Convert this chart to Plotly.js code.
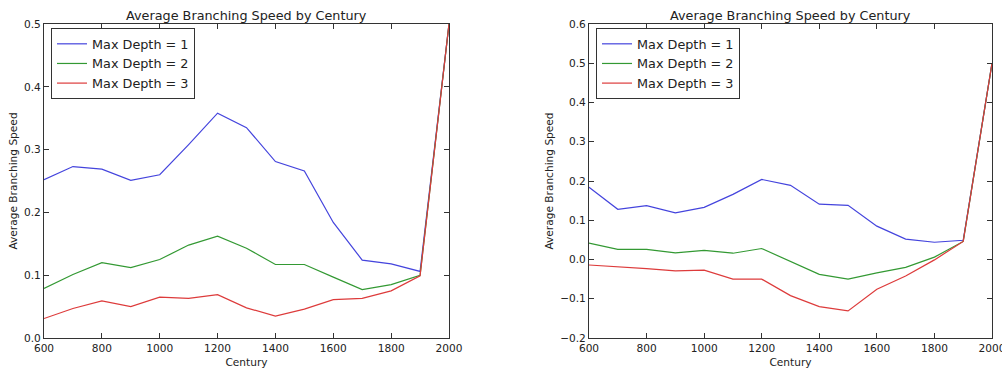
<!DOCTYPE html>
<html>
<head>
<meta charset="utf-8">
<script src="https://cdn.plot.ly/plotly-3.0.1.min.js"></script>
<style>html,body{margin:0;padding:0;background:#fff;}#chart{width:1002px;height:370px;}</style>
</head>
<body>
<div id="chart"></div>
<script>
// Data
const centuries = [600, 700, 800, 900, 1000, 1100, 1200, 1300, 1400, 1500, 1600, 1700, 1800, 1900, 2000];
const seriesNames = ["Max Depth = 1", "Max Depth = 2", "Max Depth = 3"];

// Left panel
const leftDepth1 = [0.252, 0.273, 0.269, 0.251, 0.260, 0.308, 0.358, 0.335, 0.281, 0.266, 0.184, 0.124, 0.118, 0.106, 0.5];
const leftDepth2 = [0.079, 0.101, 0.120, 0.112, 0.125, 0.148, 0.162, 0.143, 0.117, 0.117, 0.097, 0.077, 0.085, 0.100, 0.5];
const leftDepth3 = [0.031, 0.047, 0.059, 0.050, 0.065, 0.063, 0.069, 0.048, 0.035, 0.046, 0.061, 0.063, 0.075, 0.099, 0.5];

// Right panel
const rightDepth1 = [0.184, 0.128, 0.137, 0.119, 0.133, 0.166, 0.204, 0.189, 0.141, 0.138, 0.085, 0.052, 0.044, 0.049, 0.5];
const rightDepth2 = [0.042, 0.026, 0.026, 0.017, 0.023, 0.016, 0.028, -0.005, -0.038, -0.050, -0.034, -0.020, 0.006, 0.046, 0.5];
const rightDepth3 = [-0.014, -0.018, -0.023, -0.029, -0.027, -0.050, -0.050, -0.092, -0.120, -0.131, -0.076, -0.042, -0.001, 0.046, 0.5];

const titleText = "Average Branching Speed by Century";
const xTitle = "Century";
const yTitle = "Average Branching Speed";

const colors = ["#4444dd", "#339933", "#dd3b3b"];
const FONT = "DejaVu Sans, Liberation Sans, sans-serif";

const W = 1002, H = 370;
const px = v => v / W;
const py = v => 1 - v / H;

function mk(y, i, xa, ya, leg) {
  return {
    x: centuries, y: y, name: seriesNames[i], type: "scatter", mode: "lines",
    line: {color: colors[i], width: 1.2},
    xaxis: xa, yaxis: ya, legend: leg, hoverinfo: "skip"
  };
}

const traces = [
  mk(leftDepth1, 0, "x", "y", "legend"),
  mk(leftDepth2, 1, "x", "y", "legend"),
  mk(leftDepth3, 2, "x", "y", "legend"),
  mk(rightDepth1, 0, "x2", "y2", "legend2"),
  mk(rightDepth2, 1, "x2", "y2", "legend2"),
  mk(rightDepth3, 2, "x2", "y2", "legend2")
];

const axCommon = {
  showgrid: false, zeroline: false, showline: true, linecolor: "#333", linewidth: 1,
  mirror: "allticks", ticks: "inside", ticklen: 5, tickcolor: "#333", tickwidth: 1,
  tickfont: {family: FONT, size: 10.6, color: "#222"}, ticklabeloverflow: "allow",
  fixedrange: true
};

function xAx(domain, anchor) {
  return Object.assign({}, axCommon, {
    domain: domain, anchor: anchor, range: [600, 2000], tick0: 600, dtick: 200,
    title: {text: xTitle, font: {family: FONT, size: 10.6, color: "#222"}, standoff: 5}
  });
}
function yAx(domain, anchor, range, dtick) {
  return Object.assign({}, axCommon, {
    domain: domain, anchor: anchor, range: range, dtick: dtick, tickformat: ".1f",
    title: {text: yTitle, font: {family: FONT, size: 10.6, color: "#222"}, standoff: 4}
  });
}

const legCommon = {
  bgcolor: "#fff", bordercolor: "#333", borderwidth: 1,
  font: {family: FONT, size: 12.8, color: "#222"},
  xanchor: "left", yanchor: "top", tracegroupgap: 0
};

const layout = {
  width: W, height: H,
  margin: {l: 0, r: 0, t: 0, b: 0},
  paper_bgcolor: "#fff", plot_bgcolor: "#fff",
  showlegend: true,
  xaxis: xAx([px(44), px(449)], "y"),
  yaxis: yAx([1 - 338 / H, 1 - 24 / H], "x", [0, 0.5], 0.1),
  xaxis2: xAx([px(589), px(992)], "y2"),
  yaxis2: yAx([1 - 338 / H, 1 - 24 / H], "x2", [-0.2, 0.6], 0.1),
  legend: Object.assign({}, legCommon, {x: px(51), y: py(28)}),
  legend2: Object.assign({}, legCommon, {x: px(596), y: py(28)}),
  annotations: [
    {text: titleText, xref: "paper", yref: "paper", x: px(246.5), y: py(15), xanchor: "center", yanchor: "middle", showarrow: false, font: {family: FONT, size: 12.8, color: "#222"}},
    {text: titleText, xref: "paper", yref: "paper", x: px(790.5), y: py(15), xanchor: "center", yanchor: "middle", showarrow: false, font: {family: FONT, size: 12.8, color: "#222"}}
  ]
};

Plotly.newPlot("chart", traces, layout, {staticPlot: true, displayModeBar: false});
</script>
</body>
</html>
